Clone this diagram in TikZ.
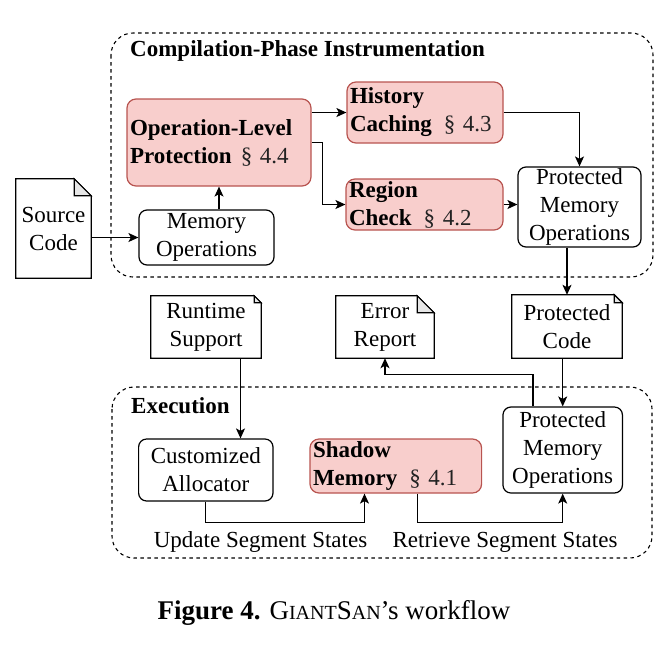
\documentclass[tikz,border=0pt]{standalone}
\usepackage{fontspec}
\setmainfont{Liberation Serif}
\usetikzlibrary{arrows.meta}
\definecolor{pinkfill}{HTML}{F8CECC}
\definecolor{pinkdraw}{HTML}{B85450}
\definecolor{foldgray}{HTML}{E6E6E6}
\definecolor{secgray}{HTML}{222222}
\newcommand\sectref[1]{{\color{secgray}\S~#1}}
\newcommand\fsc[1]{{\fontsize{20}{21}\selectfont #1}}
\newcommand\drawdoc[2]{%
  \draw[docline] (#1.south west) -- (#1.north west) -- ([xshift=-#2pt]#1.north east) -- ([yshift=-#2pt]#1.north east) -- (#1.south east) -- cycle;
  \draw[docline,fill=foldgray] ([xshift=-#2pt]#1.north east) -- ([xshift=-#2pt,yshift=-#2pt]#1.north east) -- ([yshift=-#2pt]#1.north east) -- cycle;
}
\tikzset{
  pinkbox/.style={draw=pinkdraw, fill=pinkfill, rounded corners=9pt, line width=1.2pt, inner xsep=3pt, inner ysep=0pt, align=left},
  wbox/.style={draw, fill=white, rounded corners=8pt, line width=1.2pt, inner sep=0pt, align=center},
  docbox/.style={inner sep=0pt, align=center},
  docline/.style={line width=1.2pt, line join=miter},
  arr/.style={line width=1.2pt, -{Stealth[length=10pt,width=9pt,inset=2.5pt]}},
  container/.style={draw, line width=1.1pt, dash pattern=on 3.5pt off 3.5pt, rounded corners=22pt},
  lbl/.style={inner sep=0pt}
}
\begin{document}
\begin{tikzpicture}[x=1pt,y=-1pt,font=\fontsize{23}{28}\selectfont]
\useasboundingbox (0,0) rectangle (666,646);

% containers
\draw[container] (111,33) rectangle (653,277);
\draw[container] (112,387) rectangle (652,558);
\node[lbl, anchor=base west] (t1) at (130,56) {\textbf{Compilation-Phase Instrumentation}};
\node[lbl, anchor=base west] (t2) at (131,413) {\textbf{Execution}};

% compilation phase nodes
\node[pinkbox, text width=178pt, minimum height=87pt] (op) at (219,142.5) {\textbf{Operation-Level}\\\textbf{Protection}\hspace{9pt}\sectref{4.4}};
\node[pinkbox, text width=150pt, minimum height=61pt] (hc) at (425,112.5) {\textbf{History}\\\textbf{Caching}\hspace{12pt}\sectref{4.3}};
\node[pinkbox, text width=151pt, minimum height=51pt] (rc) at (424.5,204.5) {\textbf{Region}\\\textbf{Check}\hspace{12pt}\sectref{4.2}};
\node[wbox, minimum width=123pt, minimum height=80pt] (pmo1) at (579.5,207) {Protected\\Memory\\Operations};
\node[wbox, minimum width=135pt, minimum height=55pt] (mo) at (206.5,237.5) {Memory\\Operations};

% documents
\node[docbox, minimum width=75pt, minimum height=99pt] (sc) at (53.5,228.5) {Source\\Code};
\drawdoc{sc}{17}
\node[docbox, minimum width=110pt, minimum height=62pt] (rs) at (206,327) {Runtime\\Support};
\drawdoc{rs}{7}
\node[docbox, minimum width=98pt, minimum height=62pt] (er) at (385,327) {Error\\Report};
\drawdoc{er}{17}
\node[docbox, minimum width=110pt, minimum height=63pt] (pc) at (567,326.5) {Protected\\Code};
\drawdoc{pc}{8}

% execution nodes
\node[wbox, minimum width=134.4pt, minimum height=62pt] (ca) at (205.8,470) {Customized\\Allocator};
\node[pinkbox, text width=165.6pt, minimum height=54pt] (sm) at (395.8,466) {\textbf{Shadow}\\\textbf{Memory}\hspace{12pt}\sectref{4.1}};
\node[wbox, minimum width=119.5pt, minimum height=86pt] (pmo2) at (562.7,450) {Protected\\Memory\\Operations};

% labels
\node[lbl, anchor=base] (lu) at (260.5,547) {Update Segment States};
\node[lbl, anchor=base] (lr) at (505,547) {Retrieve Segment States};

% connectors
\draw[arr] (sc.east |- mo.west) -- (mo.west);
\draw[arr] (mo.north -| op.south) -- (op.south);
\draw[arr] (op.east |- hc.west) -- (hc.west);
\draw[arr] (op.east) -- ++(11,0) |- (rc.west);
\draw[arr] (hc.east) -| (pmo1.north);
\draw[arr] (rc.east) -- (rc.east -| pmo1.west);
\draw[arr] (pmo1.south -| pc.north) -- (pc.north);
\draw[arr] (pc.south -| pmo2.north) -- (pmo2.north);
\draw[arr] ([xshift=-29.7pt]pmo2.north) -- ++(0,-32) -| (er.south);
\coordinate (rsout) at ([xshift=34.5pt]rs.south);
\draw[arr] (rsout) -- (rsout |- ca.north);
\draw[arr] (ca.south) -- ++(0,21) -| ([xshift=-31.3pt]sm.south);
\draw[arr] ([xshift=21.7pt]sm.south) -- ++(0,29) -| (pmo2.south);

% caption
\node[lbl, anchor=base, font=\fontsize{27}{31}\selectfont] (cap) at (334,619) {\textbf{Figure 4.} G\fsc{IANT}S\fsc{AN}’s workflow};
\end{tikzpicture}
\end{document}
